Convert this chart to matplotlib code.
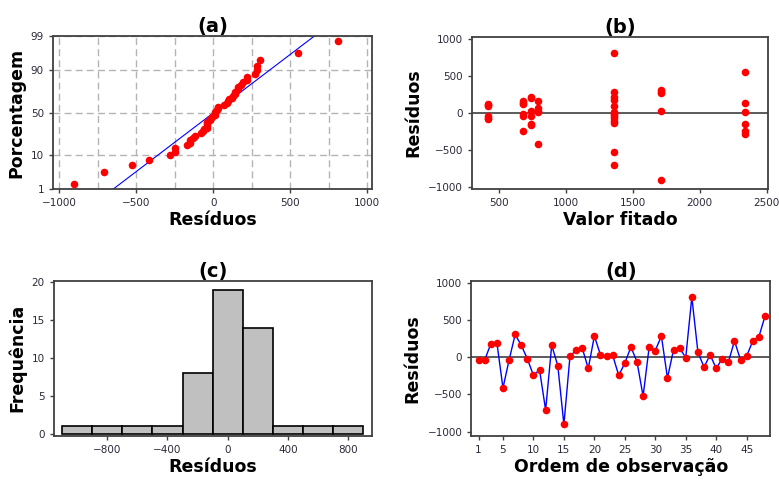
import numpy as np
import matplotlib
matplotlib.use("Agg")
import matplotlib.pyplot as plt
from matplotlib.ticker import MultipleLocator, FixedLocator
from statistics import NormalDist

residuos = [-40, -40, 180, 196, -415, -40, 305, 160, -22, -245,
            -170, -710, 160, -116, -905, 13, 94, 125, -152, 285,
            31, 13, 27, -245, -80, 138, -63, -525, 138, 89,
            285, -281, 103, 120, -5, 808, 67, -134, 31, -152,
            -18, -67, 219, -40, 13, 219, 272, 549]

# fitted value of each observation (panel b)
fitado = [420, 680, 1357, 740, 790, 740, 1712, 680, 680, 680,
          740, 1357, 790, 1357, 1712, 2340, 1357, 680, 740, 1712,
          1712, 1357, 740, 2340, 420, 680, 420, 1357, 2340, 420,
          1357, 2340, 420, 420, 1357, 1357, 790, 1357, 790, 2340,
          1357, 1357, 740, 1357, 790, 1357, 1712, 2340]

bin_edges = [-1100, -900, -700, -500, -300, -100, 100, 300, 500, 700, 900]
pct_ticks = [1, 10, 50, 90, 99]

res = np.array(residuos, dtype=float)
fit = np.array(fitado, dtype=float)
n = len(res)
ordem = np.arange(1, n + 1)

RED = "#ff0000"
BLUE = "#0000ff"
SPINE = "#404040"
TICKC = "#2a2a3a"
nd = NormalDist()

plt.rcParams["font.family"] = "DejaVu Sans"
fig = plt.figure(figsize=(7.79, 4.8), dpi=100)

ax_a = fig.add_axes([0.068, 0.606, 0.4095, 0.319])
ax_b = fig.add_axes([0.606, 0.606, 0.380, 0.317])
ax_c = fig.add_axes([0.069, 0.092, 0.408, 0.323])
ax_d = fig.add_axes([0.605, 0.092, 0.384, 0.323])


def style(ax):
    for s in ax.spines.values():
        s.set_color(SPINE)
        s.set_linewidth(1.3)
    ax.tick_params(labelsize=7.5, colors=SPINE, labelcolor=TICKC,
                   length=3, width=1)


def labels(ax, title, xl, yl):
    ax.set_title(title, fontsize=14, fontweight="bold", pad=3)
    ax.set_xlabel(xl, fontsize=12.5, fontweight="bold", labelpad=2)
    ax.set_ylabel(yl, fontsize=12.5, fontweight="bold", labelpad=4)


# (a) normal probability plot
srt = np.sort(res)
p = (np.arange(1, n + 1) - 0.3) / (n + 0.4)
z = np.array([nd.inv_cdf(v) for v in p])
mu, sd = res.mean(), res.std(ddof=1)
zl = np.array([nd.inv_cdf(0.01), nd.inv_cdf(0.99)])
ax_a.plot(mu + sd * zl, zl, color=BLUE, lw=0.8, zorder=2)
ax_a.scatter(srt, z, s=30, color=RED, zorder=3, linewidths=0)
ax_a.set_xlim(-1040, 1030)
ax_a.set_ylim(zl[0], zl[1])
ax_a.xaxis.set_major_locator(MultipleLocator(500))
ax_a.xaxis.set_minor_locator(MultipleLocator(250))
ax_a.yaxis.set_major_locator(FixedLocator([nd.inv_cdf(v / 100) for v in pct_ticks]))
ax_a.set_yticklabels([str(v) for v in pct_ticks])
ax_a.grid(True, which="both", color="#b4b4b4", ls=(0, (5, 3)), lw=1)
ax_a.tick_params(which="minor", length=0)
ax_a.set_axisbelow(True)
style(ax_a)
labels(ax_a, "(a)", "Resíduos", "Porcentagem")

# (b) residuals vs fitted
ax_b.axhline(0, color=SPINE, lw=1.2, zorder=1)
ax_b.scatter(fit, res, s=30, color=RED, zorder=3, linewidths=0)
ax_b.set_xlim(300, 2510)
ax_b.set_ylim(-1030, 1025)
ax_b.xaxis.set_major_locator(MultipleLocator(500))
ax_b.yaxis.set_major_locator(MultipleLocator(500))
style(ax_b)
labels(ax_b, "(b)", "Valor fitado", "Resíduos")

# (c) histogram
ax_c.hist(res, bins=bin_edges, color="#c0c0c0", edgecolor="black", lw=1.2)
ax_c.set_xlim(-1155, 955)
ax_c.set_ylim(-0.3, 20.2)
ax_c.xaxis.set_major_locator(MultipleLocator(400))
ax_c.yaxis.set_major_locator(MultipleLocator(5))
style(ax_c)
labels(ax_c, "(c)", "Resíduos", "Frequência")

# (d) residuals vs order
ax_d.axhline(0, color=SPINE, lw=1.2, zorder=1)
ax_d.plot(ordem, res, color=BLUE, lw=1, zorder=2)
ax_d.scatter(ordem, res, s=30, color=RED, zorder=3, linewidths=0)
ax_d.set_xlim(-0.2, 48.9)
ax_d.set_ylim(-1058, 1027)
ax_d.set_xticks([1, 5, 10, 15, 20, 25, 30, 35, 40, 45])
ax_d.yaxis.set_major_locator(MultipleLocator(500))
style(ax_d)
labels(ax_d, "(d)", "Ordem de observação", "Resíduos")

fig.savefig("out.png", dpi=100)
